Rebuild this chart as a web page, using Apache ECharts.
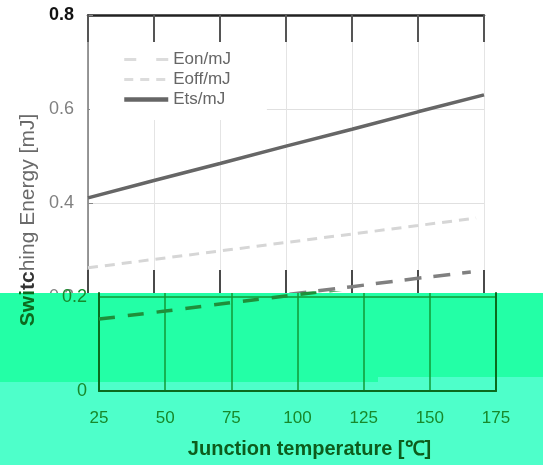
<!DOCTYPE html>
<html>
<head>
<meta charset="utf-8">
<script src="https://cdn.jsdelivr.net/npm/echarts@6/dist/echarts.min.js"></script>
<style>
  html, body { margin: 0; padding: 0; background: #fff; }
  #chart { width: 543px; height: 465px; }
</style>
</head>
<body>
<div id="chart"></div>
<script>
// values
let tempTicks = [25, 50, 75, 100, 125, 150, 175]
let tempEon = [25, 50, 75, 100, 125, 150, 170]
let eonMJ = [0.153, 0.170, 0.188, 0.205, 0.222, 0.240, 0.253]
let tempEoff = [25, 50, 75, 100, 125, 150, 172]
let eoffMJ = [0.262, 0.280, 0.298, 0.316, 0.334, 0.352, 0.368]
let tempEts = [25, 50, 75, 100, 125, 150, 175]
let etsMJ = [0.411, 0.448, 0.484, 0.521, 0.557, 0.594, 0.630]
let energyTicks = [0, 0.2, 0.4, 0.6, 0.8]

let myChart = echarts.init(document.getElementById('chart'))
let font = 'Liberation Sans, Arial, sans-serif'
let greenDark = '#0b6a1e'
let greenLine = '#129a35'
let greenText = '#17892b'

function pairs(xs, ys) {
  return xs.map((x, i) => [x, ys[i]])
}

function buildOption() {
  let xMin = tempTicks[0], xMax = tempTicks[tempTicks.length - 1]
  let yMax = energyTicks[energyTicks.length - 1]
  let hideDot = { opacity: 0 }
  let option = {
    animation: false,
    backgroundColor: '#fff',
    textStyle: { fontFamily: font },
    grid: [
      // white (upper) copy
      { left: 88, width: 396, top: 15, height: 376 },
      // green (lower) copy, shifted right
      { left: 99, width: 397, top: 293, height: 98 }
    ],
    legend: {
      left: 90, top: 42,
      orient: 'vertical',
      backgroundColor: '#fff',
      padding: [9, 36, 12, 32],
      itemGap: 3,
      itemWidth: 44,
      itemHeight: 14,
      textStyle: { color: '#666', fontSize: 17, fontFamily: font },
      data: [
        { name: 'Eon/mJ', itemStyle: hideDot, lineStyle: { color: '#dcdcdc', type: [12, 20], width: 3 } },
        { name: 'Eoff/mJ', itemStyle: hideDot, lineStyle: { color: '#dcdcdc', type: [9, 7], width: 3 } },
        { name: 'Ets/mJ', itemStyle: hideDot, lineStyle: { color: '#666', width: 4.5 } }
      ]
    },
    xAxis: [
      {
        gridIndex: 0, type: 'value', min: xMin, max: xMax, interval: 25,
        axisLine: { show: false }, axisTick: { show: false }, axisLabel: { show: false },
        splitLine: { show: true, lineStyle: { color: '#e4e4e4', width: 1 } }
      },
      {
        // top frame with dark tick stubs
        gridIndex: 0, type: 'value', position: 'top', min: xMin, max: xMax, interval: 25,
        axisLine: { show: true, lineStyle: { color: '#222', width: 2.5 } },
        axisTick: { show: true, inside: true, length: 27, lineStyle: { color: '#555', width: 2 } },
        axisLabel: { show: false }, splitLine: { show: false }
      },
      {
        // dark stubs just above the green band
        gridIndex: 0, type: 'value', position: 'bottom', offset: -98, min: xMin, max: xMax, interval: 25,
        axisLine: { show: false },
        axisTick: { show: true, inside: true, length: 23, lineStyle: { color: '#4a4a4a', width: 2 } },
        axisLabel: { show: false }, splitLine: { show: false }
      },
      {
        gridIndex: 1, type: 'value', min: xMin, max: xMax, interval: 25, z: 8,
        axisLine: { show: true, lineStyle: { color: greenDark, width: 2 } },
        axisTick: { show: false },
        axisLabel: { color: greenText, fontSize: 17, margin: 19, fontFamily: font },
        splitLine: { show: true, lineStyle: { color: greenLine, width: 1.5 } },
        name: 'Junction temperature [℃]',
        nameLocation: 'middle',
        nameGap: 48,
        nameTextStyle: { color: '#0d5c1c', fontSize: 20, fontWeight: 'bold', padding: [0, 0, 0, 24], fontFamily: font }
      }
    ],
    yAxis: [
      {
        gridIndex: 0, type: 'value', min: 0, max: yMax, interval: 0.2,
        axisLine: { show: true, lineStyle: { color: '#777', width: 1.5 } },
        axisTick: { show: true, inside: true, length: 5, lineStyle: { color: '#888' } },
        axisLabel: {
          color: '#808080', fontSize: 18, margin: 14, fontFamily: font,
          formatter: v => v === yMax ? '{b|' + v.toFixed(1) + '}' : (v === 0 ? '' : v.toFixed(1)),
          rich: { b: { color: '#111', fontWeight: 'bold', fontSize: 18, fontFamily: font } }
        },
        splitLine: { show: true, lineStyle: { color: '#e0e0e0', width: 1 } }
      },
      {
        gridIndex: 1, type: 'value', min: 0, max: 0.2085, interval: 0.2, z: 8,
        axisLine: { show: true, lineStyle: { color: greenDark, width: 2 } },
        axisTick: { show: false },
        axisLabel: {
          color: greenText, fontSize: 18, margin: 12, fontFamily: font, showMaxLabel: false,
          formatter: v => v === 0 ? '0' : v.toFixed(1)
        },
        splitLine: { show: true, showMinLine: false, showMaxLine: false, lineStyle: { color: greenLine, width: 1.5 } }
      },
      {
        gridIndex: 1, type: 'value', position: 'right', min: 0, max: 0.2085, z: 8,
        axisLine: { show: true, lineStyle: { color: greenDark, width: 2 } },
        axisTick: { show: false }, axisLabel: { show: false }, splitLine: { show: false }
      }
    ],
    graphic: [
      { type: 'rect', z: 5, shape: { x: 0, y: 293, width: 543, height: 89 }, style: { fill: '#23ffa6' } },
      { type: 'rect', z: 5, shape: { x: 0, y: 382, width: 543, height: 83 }, style: { fill: '#4effca' } },
      { type: 'rect', z: 5, shape: { x: 378, y: 377, width: 165, height: 5 }, style: { fill: '#4effca' } },
      {
        type: 'text', z: 10, x: 28, y: 220, rotation: Math.PI / 2,
        style: {
          text: '{g|Swi}{d|tc}{n|hing Energy [mJ]}',
          align: 'center', verticalAlign: 'middle',
          rich: {
            g: { fill: '#0d6a1e', fontSize: 21, fontWeight: 'bold', fontFamily: font },
            d: { fill: '#333', fontSize: 21, fontWeight: 'bold', fontFamily: font },
            n: { fill: '#6a6a6a', fontSize: 21, fontFamily: font }
          }
        }
      }
    ],
    series: [
      {
        name: 'Eon/mJ', type: 'line', xAxisIndex: 0, yAxisIndex: 0, symbol: 'none',
        lineStyle: { color: '#808080', width: 3.5, type: [17, 12] },
        data: pairs(tempEon, eonMJ)
      },
      {
        name: 'Eoff/mJ', type: 'line', xAxisIndex: 0, yAxisIndex: 0, symbol: 'none',
        lineStyle: { color: '#d6d6d6', width: 3, type: [10, 7] },
        data: pairs(tempEoff, eoffMJ)
      },
      {
        name: 'Ets/mJ', type: 'line', xAxisIndex: 0, yAxisIndex: 0, symbol: 'none',
        lineStyle: { color: '#666', width: 3.5 },
        data: pairs(tempEts, etsMJ)
      },
      // green copy of the lower part
      {
        name: 'Eon/mJ', type: 'line', xAxisIndex: 3, yAxisIndex: 1, symbol: 'none', z: 9, clip: true,
        lineStyle: { color: '#1f8f3a', width: 3.5, type: [16, 13] },
        data: pairs(tempEon, eonMJ)
      }
    ]
  }
  myChart.setOption(option)
}

buildOption()
</script>
</body>
</html>
